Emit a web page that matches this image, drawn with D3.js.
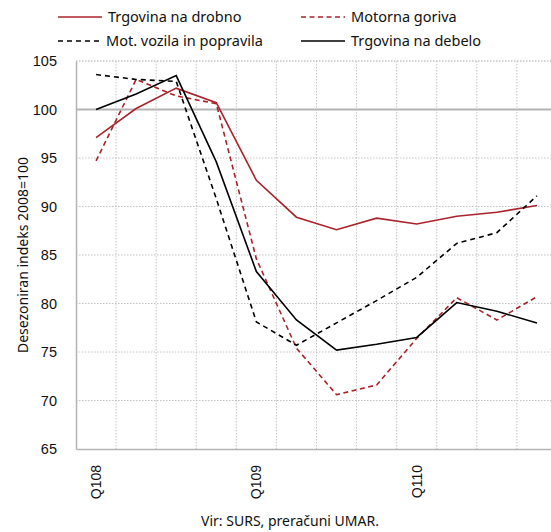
<!DOCTYPE html>
<html>
<head>
<meta charset="utf-8">
<script src="https://cdn.jsdelivr.net/npm/d3@7"></script>
<style>
  body { margin: 0; background: #fff; }
  svg { font-family: "Noto Sans", "Open Sans", sans-serif; }
</style>
</head>
<body>
<div id="chart-area"></div>
<script>
// quarters and series (index, 2008 = 100)
let quarters = ["Q108","Q208","Q308","Q408","Q109","Q209","Q309","Q409","Q110","Q210","Q310","Q410"];
let drobno  = [97.1, 100.1, 102.2, 100.7, 92.7, 88.9, 87.6, 88.8, 88.2, 89.0, 89.4, 90.1];
let goriva  = [94.7, 103.1, 101.4, 100.6, 84.6, 75.4, 70.6, 71.6, 76.4, 80.6, 78.3, 80.7];
let vozila  = [103.6, 103.1, 102.9, 90.8, 78.1, 75.7, 78.0, 80.3, 82.7, 86.2, 87.3, 91.1];
let debelo  = [100.0, 101.6, 103.5, 94.6, 83.3, 78.3, 75.2, 75.8, 76.5, 80.1, 79.2, 78.0];
let yTicks  = [65, 70, 75, 80, 85, 90, 95, 100, 105];
let tickLabels = ["Q108", "Q109", "Q110"];

let red = "#a8232b";
let series = [
  {name: "Trgovina na drobno", values: drobno, color: red, dash: null},
  {name: "Motorna goriva", values: goriva, color: red, dash: "5,3.5"},
  {name: "Mot. vozila in popravila", values: vozila, color: "#000", dash: "5,4"},
  {name: "Trgovina na debelo", values: debelo, color: "#000", dash: null}
];

let W = 551, H = 532;
let m = {top: 61, left: 76, right: -6, bottom: 83};

let svg = d3.select("#chart-area").append("svg")
    .attr("width", W).attr("height", H);

// scales
let x = d3.scaleBand().domain(quarters).range([m.left, W - m.right]);
let y = d3.scaleLinear().domain([65, 105]).range([H - m.bottom, m.top]);

// grid
let grid = svg.append("g");
grid.selectAll(".vg").data(quarters.slice(1))
  .enter().append("line")
    .attr("x1", d => x(d)).attr("x2", d => x(d))
    .attr("y1", y(105)).attr("y2", y(65))
    .attr("stroke", "#c4c4c4").attr("stroke-width", 1)
    .attr("stroke-dasharray", "1.5,1.5");
grid.selectAll(".hg").data(yTicks.filter(d => d !== 65 && d !== 100))
  .enter().append("line")
    .attr("x1", m.left).attr("x2", W)
    .attr("y1", d => y(d)).attr("y2", d => y(d))
    .attr("stroke", "#c4c4c4").attr("stroke-width", d => d === 105 ? 1.5 : 1)
    .attr("stroke-dasharray", "1.5,1.5");
// 100 line
grid.append("line")
    .attr("x1", m.left).attr("x2", W)
    .attr("y1", y(100)).attr("y2", y(100))
    .attr("stroke", "#b4b4b4").attr("stroke-width", 2);

// axes
let yAxis = d3.axisLeft(y).tickValues(yTicks).tickSize(0).tickPadding(19);
let gy = svg.append("g").attr("transform", "translate(" + m.left + ",0)").call(yAxis);
gy.select(".domain").attr("stroke", "#b4b4b4").attr("stroke-width", 1.5);
gy.selectAll("text").attr("font-size", "14.5px").attr("fill", "#111");

let xAxis = d3.axisBottom(x).tickValues(tickLabels).tickSize(0);
let gx = svg.append("g").attr("transform", "translate(0," + y(65) + ")").call(xAxis);
gx.select(".domain").attr("stroke", "#b4b4b4").attr("stroke-width", 1.5);
gx.selectAll("text")
    .attr("font-size", "14px").attr("fill", "#111")
    .attr("text-anchor", "end")
    .attr("transform", "rotate(-90)")
    .attr("x", -16).attr("y", 0).attr("dy", "0.35em");

// lines
let line = d3.line()
    .x((d, i) => x(quarters[i]) + x.bandwidth() / 2)
    .y(d => y(d));

svg.selectAll(".series").data(series)
  .enter().append("path")
    .attr("d", d => line(d.values))
    .attr("fill", "none")
    .attr("stroke", d => d.color)
    .attr("stroke-width", 1.6)
    .attr("stroke-dasharray", d => d.dash);

// legend
let legPos = [[58, 17], [301, 17], [58, 41], [301, 41]];
let leg = svg.selectAll(".leg").data(series).enter().append("g")
    .attr("transform", (d, i) => "translate(" + legPos[i][0] + "," + legPos[i][1] + ")");
leg.append("line")
    .attr("x1", 0).attr("x2", 44).attr("y1", 0).attr("y2", 0)
    .attr("stroke", d => d.color).attr("stroke-width", 1.6)
    .attr("stroke-dasharray", d => d.dash);
leg.append("text")
    .attr("x", (d, i) => i === 2 ? 48 : 50).attr("dy", "0.35em")
    .attr("font-size", "14.5px").attr("fill", "#111")
    .text(d => d.name);

// y label
svg.append("text")
    .attr("transform", "rotate(-90)")
    .attr("x", -(y(65) + y(105)) / 2).attr("y", 28)
    .attr("text-anchor", "middle")
    .attr("font-size", "14px").attr("fill", "#111")
    .text("Desezoniran indeks 2008=100");

// source
svg.append("text")
    .attr("x", 290).attr("y", 526)
    .attr("text-anchor", "middle")
    .attr("font-size", "14px").attr("fill", "#111")
    .text("Vir: SURS, preračuni UMAR.");
</script>
</body>
</html>
